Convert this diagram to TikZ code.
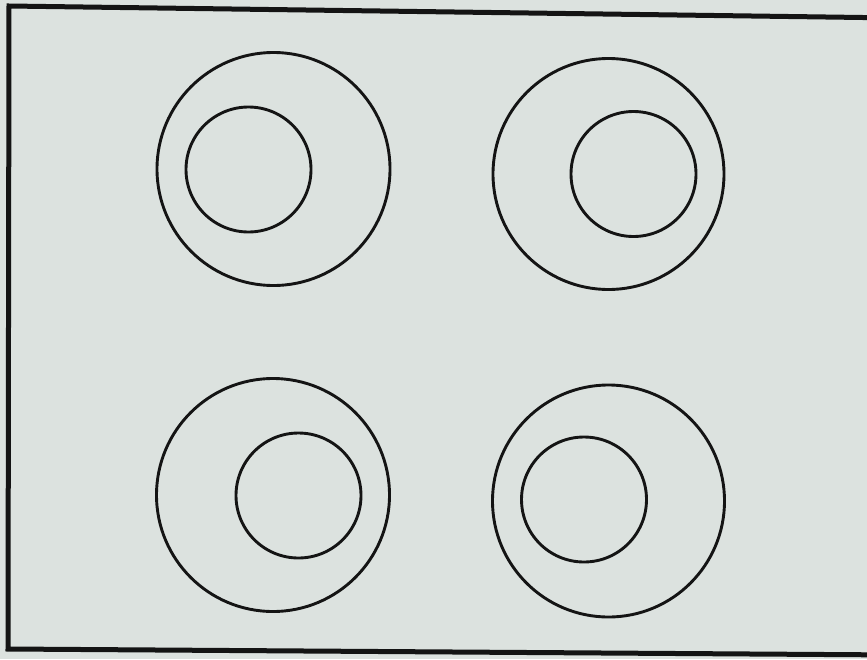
\documentclass[tikz,border=0pt]{standalone}
\begin{document}
\begin{tikzpicture}[x=1pt,y=-1pt,
  ring/.style={draw=inkc,line width=2.9pt,fill=none,circle,inner sep=0pt},
  framec/.style={draw=inkc,line width=5pt,line join=miter}]
\definecolor{paperc}{HTML}{DCE2DF}
\definecolor{inkc}{HTML}{141414}
\useasboundingbox (0,0) rectangle (867,659);
\fill[paperc] (0,0) rectangle (867,659);
% frame
\draw[framec] (900,18) -- (9,6) -- (8,649) -- (900,655);
% top-left
\node[ring,minimum size=233pt] (tlo) at (273.5,169) {};
\node[ring,minimum size=125pt] (tli) at (248.5,169.5) {};
% top-right
\node[ring,minimum size=231pt] (tro) at (608.5,174) {};
\node[ring,minimum size=125pt] (tri) at (633.5,174) {};
% bottom-left
\node[ring,minimum size=233pt] (blo) at (273,495) {};
\node[ring,minimum size=125pt] (bli) at (298.5,495.5) {};
% bottom-right
\node[ring,minimum size=232pt] (bro) at (608.5,501) {};
\node[ring,minimum size=125pt] (bri) at (584,499.5) {};
\end{tikzpicture}
\end{document}
